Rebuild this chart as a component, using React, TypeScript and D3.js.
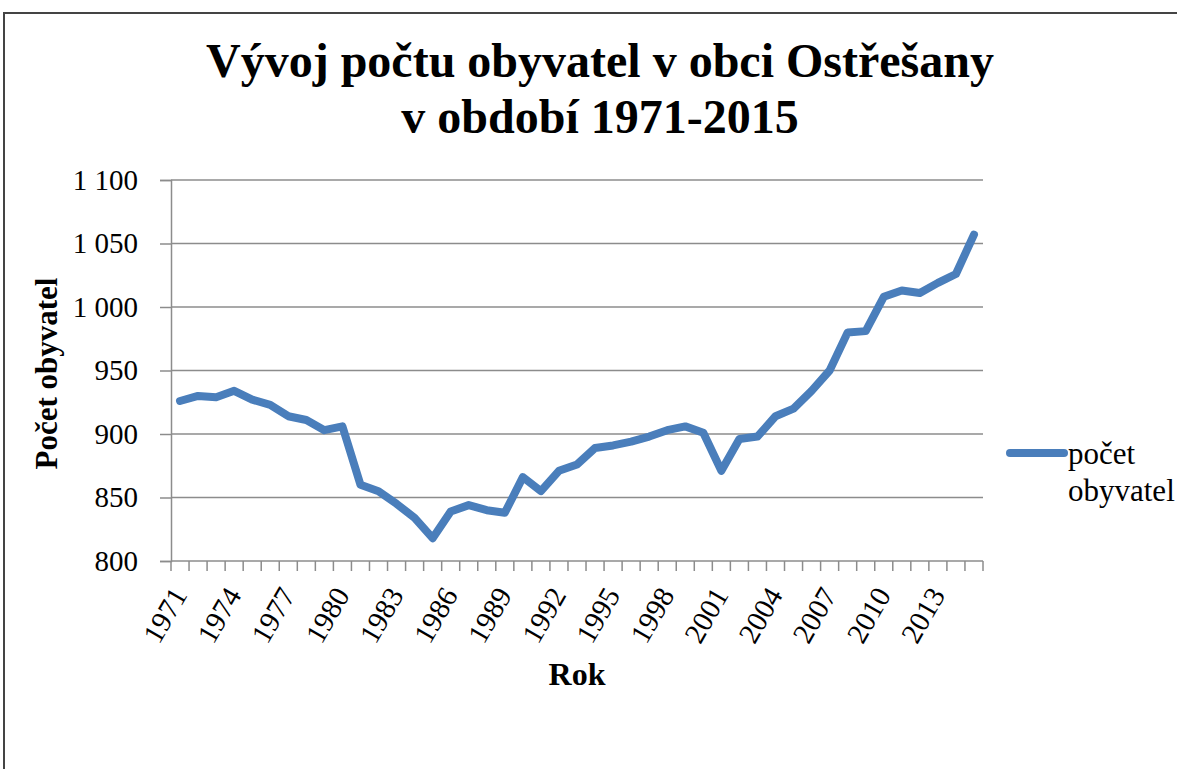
import * as d3 from "d3";
import React, { useEffect, useRef } from "react";

const years: number[] = d3.range(1971, 2016);
const population: number[] = [
  926, 930, 929, 934, 927, 923, 914, 911, 903, 906,
  860, 855, 845, 834, 818, 839, 844, 840, 838, 866,
  855, 871, 876, 889, 891, 894, 898, 903, 906, 901,
  871, 896, 898, 914, 920, 934, 950, 980, 981, 1008,
  1013, 1011, 1019, 1026, 1057,
];
const yTicks: number[] = [800, 850, 900, 950, 1000, 1050, 1100];
const xLabelYears: number[] = years.filter((y) => (y - 1971) % 3 === 0);
const titleLines: string[] = ["Vývoj počtu obyvatel v obci Ostřešany", "v období 1971-2015"];
const legendLines: string[] = ["počet", "obyvatel"];

const FONT = "'Liberation Serif', 'Times New Roman', serif";
const LINE_COLOR = "#4a7ebb";
const GRID_COLOR = "#8c8c8c";

const App: React.FC = () => {
  const svgRef = useRef<SVGSVGElement | null>(null);

  useEffect(() => {
    if (!svgRef.current) return;
    const svg = d3.select(svgRef.current);
    svg.selectAll("*").remove();

    const width = 1177;
    const height = 769;
    const plot = { left: 171, right: 983, top: 180, bottom: 561 };

    const x = d3
      .scaleBand<number>()
      .domain(years)
      .range([plot.left, plot.right])
      .padding(0);
    const y = d3
      .scaleLinear()
      .domain([800, 1100])
      .range([plot.bottom, plot.top]);

    const fmt = d3.formatLocale({
      decimal: ",",
      thousands: "\u00a0",
      grouping: [3],
      currency: ["", " Kč"],
    }).format(",d");

    svg.append("rect").attr("width", width).attr("height", height).attr("fill", "#fff");

    // outer chart border (runs off the right/bottom edge)
    svg
      .append("rect")
      .attr("x", 4)
      .attr("y", 13)
      .attr("width", width + 20)
      .attr("height", height + 20)
      .attr("fill", "none")
      .attr("stroke", "#444")
      .attr("stroke-width", 2);

    // title
    const title = svg
      .append("text")
      .attr("text-anchor", "middle")
      .style("font-family", FONT)
      .style("font-weight", "bold")
      .style("font-size", "48px")
      .attr("fill", "#000");
    titleLines.forEach((t, i) => {
      title
        .append("tspan")
        .attr("x", 600)
        .attr("y", 77 + i * 56)
        .text(t);
    });

    // gridlines
    svg
      .append("g")
      .selectAll("line")
      .data(yTicks.slice(1))
      .join("line")
      .attr("x1", plot.left)
      .attr("x2", plot.right)
      .attr("y1", (d) => y(d))
      .attr("y2", (d) => y(d))
      .attr("stroke", GRID_COLOR)
      .attr("stroke-width", 1.5);

    // y axis
    const yAxis = svg
      .append("g")
      .attr("transform", `translate(${plot.left},0)`)
      .call(d3.axisLeft(y).tickValues(yTicks).tickSize(11).tickPadding(22).tickFormat((d) => fmt(d as number)));
    yAxis.select(".domain").attr("stroke", GRID_COLOR).attr("stroke-width", 1.5);
    yAxis.selectAll(".tick line").attr("stroke", GRID_COLOR).attr("stroke-width", 1.5);
    yAxis
      .selectAll(".tick text")
      .style("font-family", FONT)
      .style("font-size", "29px")
      .attr("fill", "#000");

    // x axis: ticks between categories
    const xTicks = years.map((yr) => x(yr) as number).concat([plot.right]);
    svg
      .append("line")
      .attr("x1", plot.left)
      .attr("x2", plot.right)
      .attr("y1", plot.bottom)
      .attr("y2", plot.bottom)
      .attr("stroke", GRID_COLOR)
      .attr("stroke-width", 1.5);
    svg
      .append("g")
      .selectAll("line")
      .data(xTicks)
      .join("line")
      .attr("x1", (d) => d)
      .attr("x2", (d) => d)
      .attr("y1", plot.bottom)
      .attr("y2", plot.bottom + 10)
      .attr("stroke", GRID_COLOR)
      .attr("stroke-width", 1.5);

    const bw = x.bandwidth();
    svg
      .append("g")
      .selectAll("text")
      .data(xLabelYears)
      .join("text")
      .attr("transform", (d) => `translate(${(x(d) as number) + bw / 2 + 8},595) rotate(-60)`)
      .attr("text-anchor", "end")
      .style("font-family", FONT)
      .style("font-size", "29px")
      .attr("fill", "#000")
      .text((d) => String(d));

    // axis titles
    svg
      .append("text")
      .attr("x", (plot.left + plot.right) / 2)
      .attr("y", 685)
      .attr("text-anchor", "middle")
      .style("font-family", FONT)
      .style("font-weight", "bold")
      .style("font-size", "32px")
      .text("Rok");
    svg
      .append("text")
      .attr("transform", `translate(57,${(plot.top + plot.bottom) / 2 + 3}) rotate(-90)`)
      .attr("text-anchor", "middle")
      .style("font-family", FONT)
      .style("font-weight", "bold")
      .style("font-size", "31px")
      .text("Počet obyvatel");

    // series line
    const line = d3
      .line<number>()
      .x((_, i) => (x(years[i]) as number) + bw / 2)
      .y((d) => y(d));
    svg
      .append("path")
      .attr("d", line(population))
      .attr("fill", "none")
      .attr("stroke", LINE_COLOR)
      .attr("stroke-width", 8)
      .attr("stroke-linejoin", "round")
      .attr("stroke-linecap", "round");

    // legend
    svg
      .append("line")
      .attr("x1", 1010)
      .attr("x2", 1064)
      .attr("y1", 453)
      .attr("y2", 453)
      .attr("stroke", LINE_COLOR)
      .attr("stroke-width", 8)
      .attr("stroke-linecap", "round");
    const legendText = svg
      .append("text")
      .style("font-family", FONT)
      .style("font-size", "31px")
      .attr("fill", "#000");
    legendLines.forEach((t, i) => {
      legendText
        .append("tspan")
        .attr("x", 1068)
        .attr("y", 464 + i * 37)
        .text(t);
    });
  }, []);

  return (
    <svg
      ref={svgRef}
      width={1177}
      height={769}
      style={{ position: "absolute", left: 0, top: 0, display: "block" }}
    />
  );
};

export default App;
